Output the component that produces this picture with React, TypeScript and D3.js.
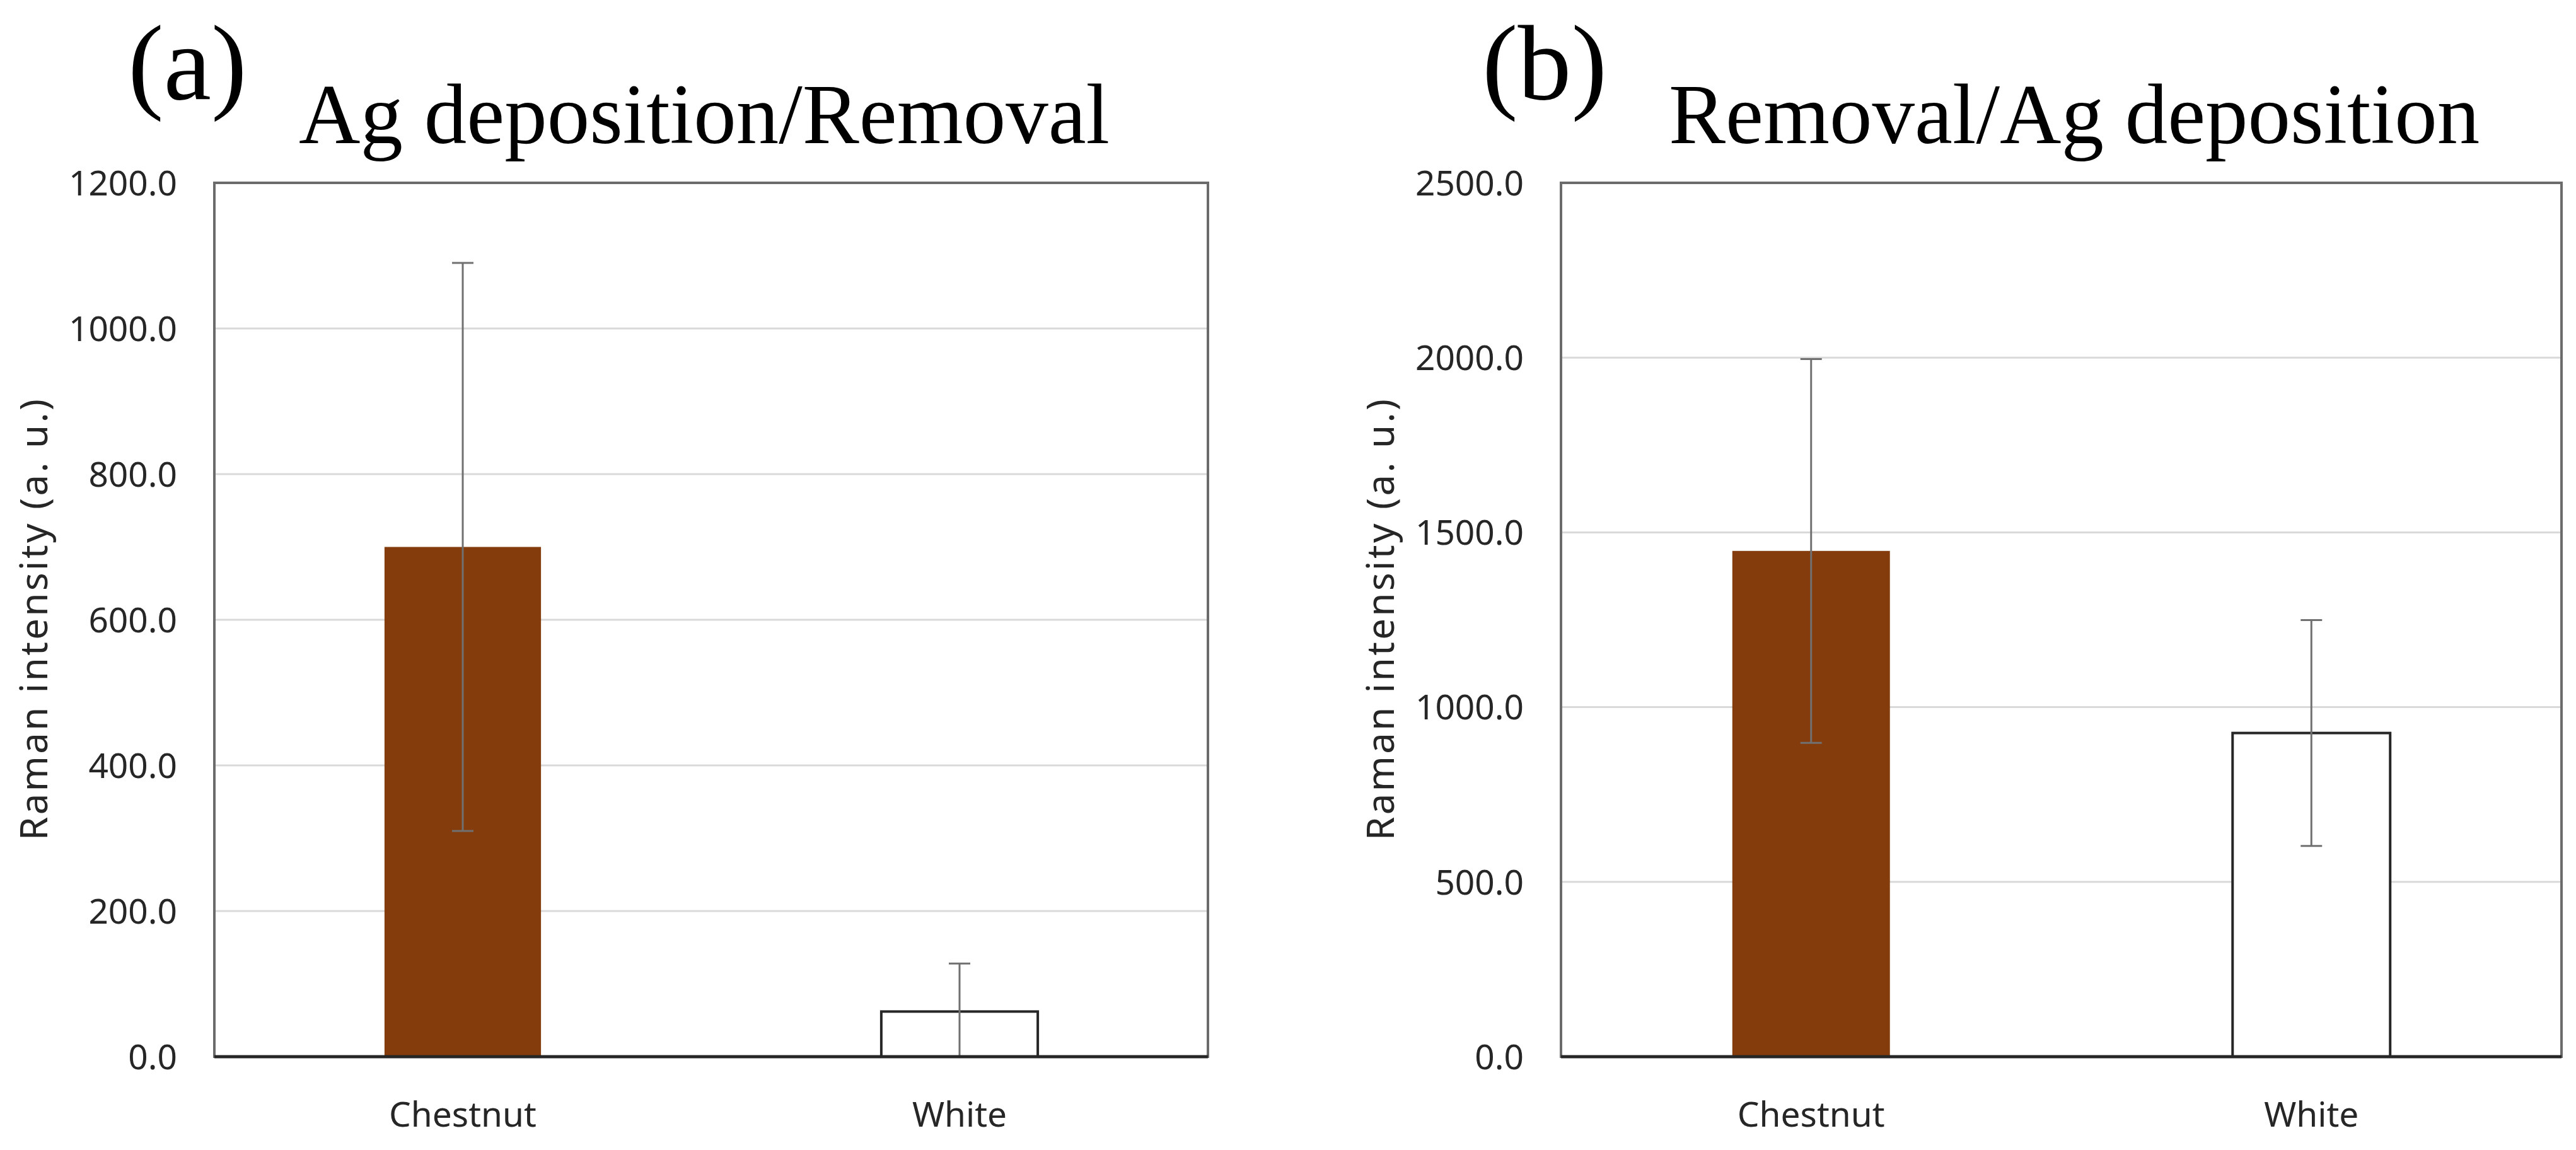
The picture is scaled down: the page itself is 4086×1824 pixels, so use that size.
import * as d3 from "d3";

const categories = ["Chestnut", "White"];

// panel (a): Ag deposition / Removal
const depRemMeans = [700, 62];
const depRemErrors = [390, 66];
const depRemTicks = [0, 200, 400, 600, 800, 1000, 1200];

// panel (b): Removal / Ag deposition
const remDepMeans = [1447, 926];
const remDepErrors = [549, 323];
const remDepTicks = [0, 500, 1000, 1500, 2000, 2500];

const W = 4086;
const H = 1824;
const TOP = 290;
const BOTTOM = 1676;

const fmt = d3.format(".1f");
const barFill = ["#843C0C", "#FFFFFF"];
const barStroke = ["none", "#262626"];

function Panel({ left, right, letter, letterX, title, titleX, means, errors, ticks }) {
  const x = d3.scaleBand().domain(categories).range([left, right]).padding(0);
  const y = d3.scaleLinear().domain([0, ticks[ticks.length - 1]]).range([BOTTOM, TOP]);
  const bw = x.bandwidth() * 0.315;
  const cap = 17;

  return (
    <g>
      <text x={letterX} y={157} fontFamily="Liberation Serif, serif" fontSize={170}>
        {letter}
      </text>
      <text x={titleX} y={227} fontFamily="Liberation Serif, serif" fontSize={135}>
        {title}
      </text>

      {/* gridlines */}
      {ticks.map((t) => (
        <line key={t} x1={left} x2={right} y1={y(t)} y2={y(t)} stroke="#d9d9d9" strokeWidth={3} />
      ))}

      {/* plot border */}
      <rect x={left} y={TOP} width={right - left} height={BOTTOM - TOP} fill="none" stroke="#6b6b6b" strokeWidth={4} />

      {/* tick labels */}
      {ticks.map((t) => (
        <text
          key={"l" + t}
          x={left - 59}
          y={y(t)}
          dy="0.36em"
          textAnchor="end"
          fontFamily="Noto Sans, sans-serif"
          fontSize={55}
          fill="#262626"
        >
          {fmt(t)}
        </text>
      ))}

      <text
        transform={`translate(${left - 265},${(TOP + BOTTOM) / 2}) rotate(-90)`}
        textAnchor="middle"
        fontFamily="Noto Sans, sans-serif"
        fontSize={60}
        textLength={700}
        lengthAdjust="spacing"
        fill="#262626"
      >
        Raman intensity (a. u.)
      </text>

      {/* bars */}
      {categories.map((c, i) => {
        const cx = x(c) + x.bandwidth() / 2;
        return (
          <rect
            key={c}
            x={cx - bw / 2}
            y={y(means[i])}
            width={bw}
            height={BOTTOM - y(means[i])}
            fill={barFill[i]}
            stroke={barStroke[i]}
            strokeWidth={4}
          />
        );
      })}

      {/* error bars */}
      {categories.map((c, i) => {
        const cx = x(c) + x.bandwidth() / 2;
        const hi = means[i] + errors[i];
        const lo = means[i] - errors[i];
        const loY = y(Math.max(0, lo));
        return (
          <g key={"e" + c} stroke="#707070" strokeWidth={3}>
            <line x1={cx} x2={cx} y1={y(hi)} y2={loY} />
            <line x1={cx - cap} x2={cx + cap} y1={y(hi)} y2={y(hi)} />
            {lo > 0 && <line x1={cx - cap} x2={cx + cap} y1={loY} y2={loY} />}
          </g>
        );
      })}

      {/* x axis */}
      <line x1={left} x2={right} y1={BOTTOM} y2={BOTTOM} stroke="#262626" strokeWidth={5} />

      {categories.map((c) => (
        <text
          key={"c" + c}
          x={x(c) + x.bandwidth() / 2}
          y={BOTTOM + 111}
          textAnchor="middle"
          fontFamily="Noto Sans, sans-serif"
          fontSize={55}
          fill="#262626"
        >
          {c}
        </text>
      ))}
    </g>
  );
}

export default function App() {
  return (
    <svg
      width={W}
      height={H}
      style={{ position: "absolute", left: 0, top: 0, background: "#fff" }}
    >
      <rect width={W} height={H} fill="#fff" />
      <Panel
        left={340}
        right={1916}
        letter="(a)"
        letterX={203}
        title="Ag deposition/Removal"
        titleX={474}
        means={depRemMeans}
        errors={depRemErrors}
        ticks={depRemTicks}
      />
      <Panel
        left={2476}
        right={4063}
        letter="(b)"
        letterX={2351}
        title="Removal/Ag deposition"
        titleX={2647}
        means={remDepMeans}
        errors={remDepErrors}
        ticks={remDepTicks}
      />
    </svg>
  );
}
